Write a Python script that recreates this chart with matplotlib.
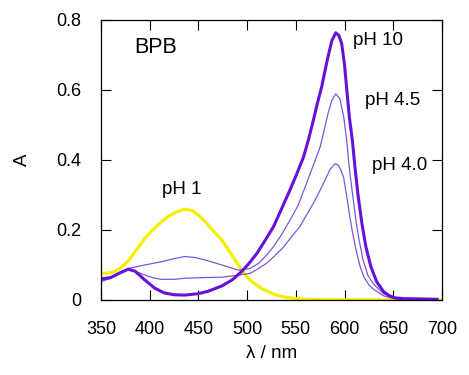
import matplotlib
matplotlib.use("Agg")
import matplotlib.pyplot as plt

plt.rcParams['font.family'] = ['Liberation Sans', 'DejaVu Sans']

# ---- spectra of bromophenol blue ----
wl_ph10 = [350, 360, 370, 378, 385, 395, 405, 415, 425, 436, 450, 460, 474, 485,
           495, 503, 510, 518, 527, 535, 544, 551, 558, 563, 568, 572, 576.5, 580,
           583, 587, 591, 594, 597, 600, 602, 605, 608, 611, 614, 618, 622, 627,
           633, 640, 646, 652, 660, 680, 695]
a_ph10 = [0.060, 0.064, 0.078, 0.088, 0.082, 0.057, 0.034, 0.020, 0.015, 0.014,
          0.018, 0.025, 0.040, 0.058, 0.083, 0.108, 0.133, 0.168, 0.209, 0.258,
          0.314, 0.360, 0.409, 0.458, 0.513, 0.560, 0.608, 0.655, 0.694, 0.740,
          0.762, 0.755, 0.732, 0.670, 0.608, 0.520, 0.455, 0.370, 0.295, 0.215,
          0.150, 0.095, 0.052, 0.024, 0.012, 0.006, 0.004, 0.003, 0.002]

wl_ph45 = [350, 360, 370, 378, 395, 412, 425, 436, 447, 457, 474, 491, 503, 512,
           520, 527, 535, 544, 552, 561, 568, 575, 580, 583, 587, 591, 595, 599,
           602, 604, 606, 609, 612, 615, 619, 624, 630, 640, 650, 660]
a_ph45 = [0.055, 0.066, 0.080, 0.090, 0.100, 0.109, 0.118, 0.124, 0.121, 0.114,
          0.100, 0.085, 0.090, 0.105, 0.128, 0.152, 0.185, 0.228, 0.268, 0.333,
          0.385, 0.437, 0.495, 0.532, 0.570, 0.588, 0.575, 0.525, 0.460, 0.400,
          0.350, 0.285, 0.220, 0.170, 0.114, 0.070, 0.045, 0.018, 0.006, 0.002]

wl_ph40 = [350, 360, 370, 378, 387, 395, 405, 412, 425, 436, 457, 474, 491, 503,
           512, 520, 528, 537, 545, 554, 561, 568, 574, 580, 585, 590, 593, 596,
           599, 602, 605, 608, 612, 616, 620, 625, 630, 640, 650, 660]
a_ph40 = [0.052, 0.062, 0.078, 0.086, 0.080, 0.071, 0.062, 0.059, 0.059, 0.062,
          0.064, 0.065, 0.071, 0.076, 0.090, 0.105, 0.125, 0.150, 0.178, 0.209,
          0.243, 0.276, 0.308, 0.342, 0.372, 0.388, 0.386, 0.372, 0.350, 0.300,
          0.245, 0.195, 0.140, 0.095, 0.065, 0.043, 0.030, 0.012, 0.004, 0.002]

wl_ph1 = [350, 358, 364, 370, 378, 385, 395, 404, 412, 420, 428, 436, 444, 450,
          457, 465, 474, 482, 491, 498, 505, 517, 530, 540, 550, 560, 580, 700]
a_ph1 = [0.076, 0.077, 0.081, 0.091, 0.112, 0.138, 0.176, 0.202, 0.223, 0.240,
         0.252, 0.259, 0.255, 0.242, 0.223, 0.198, 0.171, 0.138, 0.100, 0.071,
         0.052, 0.029, 0.014, 0.008, 0.004, 0.002, 0.001, 0.000]

x_ticks = [350, 400, 450, 500, 550, 600, 650, 700]
y_ticks = [0, 0.2, 0.4, 0.6, 0.8]
y_ticklabels = ["0", "0.2", "0.4", "0.6", "0.8"]

fig = plt.figure(figsize=(4.69, 3.75), dpi=100)
ax = fig.add_axes([0.2154, 0.2, 0.727, 0.748])

ax.plot(wl_ph1, a_ph1, color="#F5EE00", lw=2.3)
ax.plot(wl_ph40, a_ph40, color="#7A58DE", lw=0.9)
ax.plot(wl_ph45, a_ph45, color="#7A58DE", lw=0.9)
ax.plot(wl_ph10, a_ph10, color="#6612D6", lw=2.2)

ax.set_xlim(350, 700)
ax.set_ylim(0, 0.8)
ax.set_xticks(x_ticks)
ax.set_yticks(y_ticks)
ax.set_yticklabels(y_ticklabels)
ax.tick_params(direction="in", length=7.2, width=0.8, top=True, right=True,
               labelsize=13)
ax.tick_params(axis="x", pad=15)
ax.tick_params(axis="y", pad=14)
for s in ax.spines.values():
    s.set_linewidth(0.9)

ax.set_xlabel("λ / nm", fontsize=13.5, labelpad=5)
ax.set_ylabel("A", fontsize=13.5, labelpad=18)

ax.text(384, 0.705, "BPB", fontsize=15.5, va="baseline")
ax.text(412.6, 0.302, "pH 1", fontsize=13.5, va="baseline")
ax.text(608.7, 0.727, "pH 10", fontsize=13.5, va="baseline")
ax.text(621, 0.556, "pH 4.5", fontsize=13.5, va="baseline")
ax.text(628.2, 0.371, "pH 4.0", fontsize=13.5, va="baseline")

fig.savefig("out.png", dpi=100)
